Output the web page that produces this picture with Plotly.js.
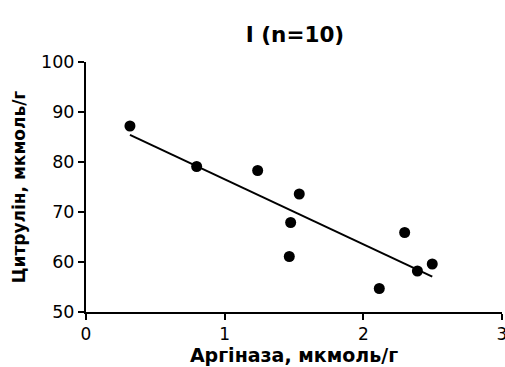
<!DOCTYPE html>
<html>
<head>
<meta charset="utf-8">
<script src="https://cdn.plot.ly/plotly-3.0.1.min.js"></script>
<style>html,body{margin:0;padding:0;background:#fff;}#chart{width:505px;height:367px;}</style>
</head>
<body>
<div id="chart"></div>
<script>
var arginase = [0.317, 0.798, 1.238, 1.538, 1.476, 1.466, 2.115, 2.298, 2.39, 2.497];
var citrulline = [87.2, 79.1, 78.3, 73.6, 67.9, 61.1, 54.7, 65.9, 58.2, 59.6];
var xTicks = [0, 1, 2, 3];
var yTicks = [50, 60, 70, 80, 90, 100];

// linear regression
var n = arginase.length;
var mx = arginase.reduce(function(a,b){return a+b;},0)/n;
var my = citrulline.reduce(function(a,b){return a+b;},0)/n;
var sxy = 0, sxx = 0;
for (var i = 0; i < n; i++) { sxy += (arginase[i]-mx)*(citrulline[i]-my); sxx += (arginase[i]-mx)*(arginase[i]-mx); }
var slope = sxy/sxx, intercept = my - slope*mx;
var xmin = Math.min.apply(null, arginase), xmax = Math.max.apply(null, arginase);
var fitX = [xmin, xmax];
var fitY = fitX.map(function(x){return intercept + slope*x;});

var font = 'DejaVu Sans, Arial, sans-serif';
var data = [
  {x: fitX, y: fitY, mode: 'lines', line: {color: '#000', width: 2}, hoverinfo: 'skip', cliponaxis: false},
  {x: arginase, y: citrulline, mode: 'markers', marker: {color: '#000', size: 11}, cliponaxis: false}
];
var layout = {
  width: 505, height: 367,
  margin: {l: 86, r: 3, t: 62, b: 55},
  showlegend: false,
  paper_bgcolor: '#fff', plot_bgcolor: '#fff',
  title: {text: '<b>I (n=10)</b>', font: {family: font, size: 21.5, color: '#000'}, x: 295/505, xanchor: 'center', y: 1 - 34/367, yanchor: 'middle', yref: 'container'},
  xaxis: {
    range: [0, 3], tickvals: xTicks, ticktext: xTicks.map(String),
    showgrid: false, zeroline: false, showline: true, linecolor: '#000', linewidth: 2,
    ticks: 'outside', ticklen: 6, tickwidth: 2, tickcolor: '#000',
    ticklabeloverflow: 'allow',
    tickfont: {family: font, size: 17, color: '#000'},
    title: {text: '<b>Аргіназа, мкмоль/г</b>', font: {family: font, size: 19, color: '#000'}, standoff: 2}
  },
  yaxis: {
    range: [50, 100], tickvals: yTicks, ticktext: yTicks.map(String),
    showgrid: false, zeroline: false, showline: true, linecolor: '#000', linewidth: 2,
    ticks: 'outside', ticklen: 6, tickwidth: 2, tickcolor: '#000',
    ticklabeloverflow: 'allow',
    tickfont: {family: font, size: 17.5, color: '#000'},
    title: {text: '<b>Цитрулін, мкмоль/г</b>', font: {family: font, size: 17, color: '#000'}, standoff: 11}
  }
};
Plotly.newPlot('chart', data, layout, {displayModeBar: false, staticPlot: true});
</script>
</body>
</html>
